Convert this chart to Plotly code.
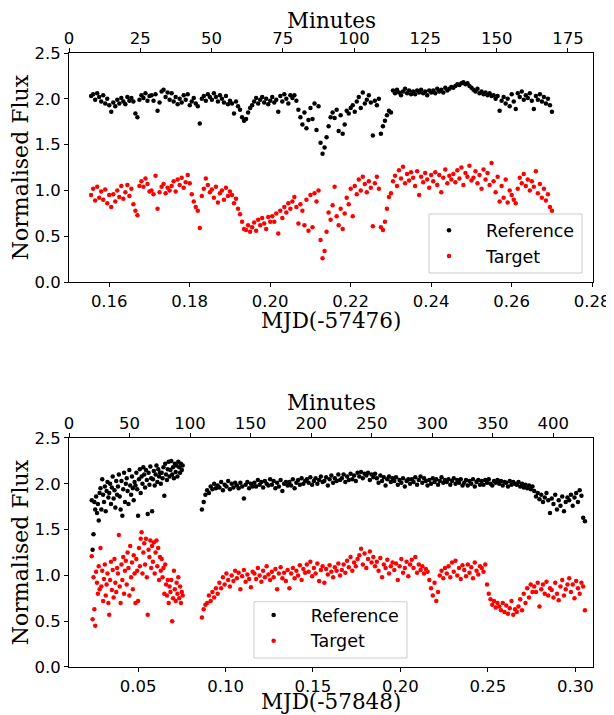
import plotly.graph_objects as go

# ---------------- Top panel (MJD-57476) ----------------
T_TOP = [
    0.1555, 0.1560, 0.1565, 0.1570, 0.1575, 0.1580, 0.1585, 0.1590, 0.1595, 0.1600,
    0.1605, 0.1610, 0.1615, 0.1620, 0.1625, 0.1630, 0.1635, 0.1640, 0.1645, 0.1650,
    0.1655, 0.1660, 0.1665, 0.1670, 0.1675, 0.1680, 0.1685, 0.1690, 0.1695, 0.1700,
    0.1705, 0.1710, 0.1715, 0.1720, 0.1725, 0.1730, 0.1735, 0.1740, 0.1745, 0.1750,
    0.1755, 0.1760, 0.1765, 0.1770, 0.1775, 0.1780, 0.1785, 0.1790, 0.1795, 0.1800,
    0.1805, 0.1810, 0.1815, 0.1820, 0.1825, 0.1830, 0.1835, 0.1840, 0.1845, 0.1850,
    0.1855, 0.1860, 0.1865, 0.1870, 0.1875, 0.1880, 0.1885, 0.1890, 0.1895, 0.1900,
    0.1905, 0.1910, 0.1915, 0.1920, 0.1925, 0.1930, 0.1935, 0.1940, 0.1945, 0.1950,
    0.1955, 0.1960, 0.1965, 0.1970, 0.1975, 0.1980, 0.1985, 0.1990, 0.1995, 0.2000,
    0.2005, 0.2010, 0.2015, 0.2020, 0.2025, 0.2030, 0.2035, 0.2040, 0.2045, 0.2050,
    0.2055, 0.2060, 0.2065, 0.2070, 0.2075, 0.2080, 0.2085, 0.2090, 0.2095, 0.2100,
    0.2105, 0.2110, 0.2115, 0.2120, 0.2125, 0.2130, 0.2135, 0.2140, 0.2145, 0.2150,
    0.2155, 0.2160, 0.2165, 0.2170, 0.2175, 0.2180, 0.2185, 0.2190, 0.2195, 0.2200,
    0.2205, 0.2210, 0.2215, 0.2220, 0.2225, 0.2230, 0.2235, 0.2240, 0.2245, 0.2250,
    0.2255, 0.2260, 0.2265, 0.2270, 0.2275, 0.2280, 0.2285, 0.2290, 0.2295, 0.2300,
    0.2305, 0.2310, 0.2315, 0.2320, 0.2325, 0.2330, 0.2335, 0.2340, 0.2345, 0.2350,
    0.2355, 0.2360, 0.2365, 0.2370, 0.2375, 0.2380, 0.2385, 0.2390, 0.2395, 0.2400,
    0.2405, 0.2410, 0.2415, 0.2420, 0.2425, 0.2430, 0.2435, 0.2440, 0.2445, 0.2450,
    0.2455, 0.2460, 0.2465, 0.2470, 0.2475, 0.2480, 0.2485, 0.2490, 0.2495, 0.2500,
    0.2505, 0.2510, 0.2515, 0.2520, 0.2525, 0.2530, 0.2535, 0.2540, 0.2545, 0.2550,
    0.2555, 0.2560, 0.2565, 0.2570, 0.2575, 0.2580, 0.2585, 0.2590, 0.2595, 0.2600,
    0.2605, 0.2610, 0.2615, 0.2620, 0.2625, 0.2630, 0.2635, 0.2640, 0.2645, 0.2650,
    0.2655, 0.2660, 0.2665, 0.2670, 0.2675, 0.2680, 0.2685, 0.2690, 0.2695, 0.2700,
]

REF_TOP = [
    2.03, 2.05, 1.99, 2.06, 2.02, 1.97, 2.04, 1.95, 2.00, 1.93,
    1.86, 1.96, 1.92, 1.99, 1.95, 2.01, 1.97, 1.94, 2.02, 1.98,
    2.01, 1.97, 1.84, 1.80, 1.99, 2.04, 2.01, 2.06, 1.98, 2.03,
    2.04, 1.98, 2.05, 1.87, 1.96, 2.08, 2.10, 2.02, 2.07, 1.99,
    2.06, 1.97, 2.02, 1.94, 2.00, 1.96, 2.04, 1.99, 2.05, 1.93,
    1.97, 2.01, 1.95, 1.92, 1.73, 2.00, 2.03, 1.98, 2.05, 2.02,
    1.99, 2.06, 2.02, 1.97, 2.04, 2.00, 1.96, 2.03, 1.94, 1.98,
    1.95, 1.84, 1.97, 1.92, 1.88, 1.80, 1.76, 1.78, 1.85, 1.90,
    1.93, 1.97, 2.01, 1.95, 1.99, 2.02, 1.96, 2.00, 1.94, 1.98,
    2.02, 1.96, 1.99, 1.86, 2.03, 1.97, 2.05, 2.00, 1.95, 2.04,
    2.01, 2.04, 1.98, 1.88, 1.80, 1.72, 1.85, 1.68, 1.77, 1.90,
    1.78, 1.95, 1.66, 1.92, 1.52, 1.40, 1.47, 1.58, 1.70, 1.80,
    1.85, 1.79, 1.88, 1.65, 1.82, 1.62, 1.72, 1.87, 1.84, 1.90,
    1.93, 1.86, 1.97, 2.02, 1.90, 2.07, 1.95, 1.99, 2.04, 1.96,
    1.60, 1.98, 1.93, 2.00, 1.62, 1.70, 1.76, 1.82, 1.87, 1.85,
    2.09, 2.06, 2.10, 2.07, 2.04, 2.08, 2.11, 2.06, 2.09, 2.05,
    2.08, 2.05, 2.09, 2.07, 2.10, 2.06, 2.08, 2.04, 2.09, 2.07,
    2.09, 2.06, 2.11, 2.08, 2.10, 2.07, 2.12, 2.09, 2.11, 2.13,
    2.12, 2.14, 2.16, 2.15, 2.17, 2.18, 2.16, 2.17, 2.14, 2.12,
    2.10, 2.08, 2.11, 2.06, 2.08, 2.05, 2.07, 2.04, 2.06, 2.03,
    2.04, 2.00, 2.03, 1.87, 1.98, 2.02, 1.95, 2.00, 1.92, 2.05,
    1.97, 1.89, 2.06, 2.02, 2.08, 1.99, 2.04, 2.01, 2.06, 1.98,
    1.89, 2.03, 1.99, 2.05, 1.97, 2.02, 1.95, 2.00, 1.93, 1.86,
]

TGT_TOP = [
    0.95, 1.02, 0.89, 1.04, 0.92, 0.99, 0.90, 1.01, 0.86, 0.95,
    0.82, 0.96, 0.88, 1.00, 0.93, 1.05, 0.91, 0.98, 1.06, 0.94,
    1.02, 0.85, 0.78, 0.73, 1.05, 1.10, 1.04, 1.13, 1.07, 0.99,
    1.00, 0.96, 1.16, 0.80, 0.98, 1.04, 1.07, 0.97, 1.03, 1.00,
    1.05, 1.10, 0.99, 1.12, 1.06, 1.14, 1.03, 1.09, 1.17, 1.08,
    0.96, 0.88, 0.82, 0.78, 0.59, 0.94, 1.02, 1.13, 1.06, 0.98,
    1.01, 0.92, 1.04, 0.87, 0.97, 1.00, 0.90, 1.03, 0.94, 0.99,
    0.95, 0.86, 0.91, 0.80, 0.74, 0.66, 0.58, 0.57, 0.62, 0.55,
    0.60, 0.65, 0.56, 0.68, 0.62, 0.70, 0.64, 0.58, 0.71, 0.66,
    0.72, 0.66, 0.75, 0.53, 0.78, 0.70, 0.82, 0.76, 0.86, 0.80,
    0.88, 0.93, 0.82, 0.64, 0.85, 0.78, 0.62, 0.90, 0.56, 0.95,
    0.60, 0.97, 0.88, 1.00, 0.46, 0.26, 0.34, 0.55, 0.76, 0.68,
    0.84, 1.04, 0.72, 0.62, 0.80, 0.58, 0.75, 0.92, 0.85, 1.02,
    0.72, 1.05, 0.96, 1.12, 1.00, 1.15, 1.07, 0.98, 1.10, 1.03,
    0.61, 1.08, 1.15, 1.02, 0.60, 0.57, 0.66, 0.80, 0.93, 0.97,
    1.10, 1.16, 1.05, 1.22, 1.13, 1.26, 1.08, 1.18, 1.11, 1.20,
    1.14, 1.05, 1.21, 0.95, 1.15, 1.09, 1.19, 1.12, 1.03, 1.17,
    1.10, 1.20, 1.06, 1.17, 0.98, 1.14, 1.23, 1.08, 1.16, 1.12,
    1.18, 1.09, 1.22, 1.13, 1.25, 1.06, 1.19, 1.15, 1.27, 1.11,
    1.14, 1.21, 1.08, 1.17, 1.02, 1.23, 1.12, 1.19, 1.06, 1.30,
    1.10, 0.98, 1.15, 0.88, 1.05, 0.92, 1.12, 0.87, 1.00, 0.95,
    0.90, 0.86, 1.02, 1.14, 1.08, 1.18, 1.05, 1.12, 1.00, 1.10,
    1.04, 1.21, 0.97, 1.07, 0.92, 1.02, 0.89, 0.96, 0.82, 0.78,
]

# ---------------- Bottom panel (MJD-57848) ----------------
T_BOT = [
    0.0235, 0.0240, 0.0245, 0.0250, 0.0255, 0.0260, 0.0265, 0.0270, 0.0275, 0.0280,
    0.0285, 0.0290, 0.0295, 0.0300, 0.0305, 0.0310, 0.0315, 0.0320, 0.0325, 0.0330,
    0.0335, 0.0340, 0.0345, 0.0350, 0.0355, 0.0360, 0.0365, 0.0370, 0.0375, 0.0380,
    0.0385, 0.0390, 0.0395, 0.0400, 0.0405, 0.0410, 0.0415, 0.0420, 0.0425, 0.0430,
    0.0435, 0.0440, 0.0445, 0.0450, 0.0455, 0.0460, 0.0465, 0.0470, 0.0475, 0.0480,
    0.0485, 0.0490, 0.0495, 0.0500, 0.0505, 0.0510, 0.0515, 0.0520, 0.0525, 0.0530,
    0.0535, 0.0540, 0.0545, 0.0550, 0.0555, 0.0560, 0.0565, 0.0570, 0.0575, 0.0580,
    0.0585, 0.0590, 0.0595, 0.0600, 0.0605, 0.0610, 0.0615, 0.0620, 0.0625, 0.0630,
    0.0635, 0.0640, 0.0645, 0.0650, 0.0655, 0.0660, 0.0665, 0.0670, 0.0675, 0.0680,
    0.0685, 0.0690, 0.0695, 0.0700, 0.0705, 0.0710, 0.0715, 0.0720, 0.0725, 0.0730,
    0.0735, 0.0740, 0.0745, 0.0750, 0.0755,
    0.0865, 0.0875, 0.0885, 0.0895, 0.0905, 0.0915, 0.0925, 0.0935, 0.0945, 0.0955,
    0.0965, 0.0975, 0.0985, 0.0995, 0.1005, 0.1015, 0.1025, 0.1035, 0.1045, 0.1055,
    0.1065, 0.1075, 0.1085, 0.1095, 0.1105, 0.1115, 0.1125, 0.1135, 0.1145, 0.1155,
    0.1165, 0.1175, 0.1185, 0.1195, 0.1205, 0.1215, 0.1225, 0.1235, 0.1245, 0.1255,
    0.1265, 0.1275, 0.1285, 0.1295, 0.1305, 0.1315, 0.1325, 0.1335, 0.1345, 0.1355,
    0.1365, 0.1375, 0.1385, 0.1395, 0.1405, 0.1415, 0.1425, 0.1435, 0.1445, 0.1455,
    0.1465, 0.1475, 0.1485, 0.1495, 0.1505, 0.1515, 0.1525, 0.1535, 0.1545, 0.1555,
    0.1565, 0.1575, 0.1585, 0.1595, 0.1605, 0.1615, 0.1625, 0.1635, 0.1645, 0.1655,
    0.1665, 0.1675, 0.1685, 0.1695, 0.1705, 0.1715, 0.1725, 0.1735, 0.1745, 0.1755,
    0.1765, 0.1775, 0.1785, 0.1795, 0.1805, 0.1815, 0.1825, 0.1835, 0.1845, 0.1855,
    0.1865, 0.1875, 0.1885, 0.1895, 0.1905, 0.1915, 0.1925, 0.1935, 0.1945, 0.1955,
    0.1965, 0.1975, 0.1985, 0.1995, 0.2005, 0.2015, 0.2025, 0.2035, 0.2045, 0.2055,
    0.2065, 0.2075, 0.2085, 0.2095, 0.2105, 0.2115, 0.2125, 0.2135, 0.2145, 0.2155,
    0.2165, 0.2175, 0.2185, 0.2195, 0.2205, 0.2215, 0.2225, 0.2235, 0.2245, 0.2255,
    0.2265, 0.2275, 0.2285, 0.2295, 0.2305, 0.2315, 0.2325, 0.2335, 0.2345, 0.2355,
    0.2365, 0.2375, 0.2385, 0.2395, 0.2405, 0.2415, 0.2425, 0.2435, 0.2445, 0.2455,
    0.2465, 0.2475, 0.2485, 0.2495, 0.2505, 0.2515, 0.2525, 0.2535, 0.2545, 0.2555,
    0.2565, 0.2575, 0.2585, 0.2595, 0.2605, 0.2615, 0.2625, 0.2635, 0.2645, 0.2655,
    0.2665, 0.2675, 0.2685, 0.2695, 0.2705, 0.2715, 0.2725, 0.2735, 0.2745, 0.2755,
    0.2765, 0.2775, 0.2785, 0.2795, 0.2805, 0.2815, 0.2825, 0.2835, 0.2845, 0.2855,
    0.2865, 0.2875, 0.2885, 0.2895, 0.2905, 0.2915, 0.2925, 0.2935, 0.2945, 0.2955,
    0.2965, 0.2975, 0.2985, 0.2995, 0.3005, 0.3015, 0.3025, 0.3035, 0.3045, 0.3055,
]

REF_BOT = [
    1.82, 1.28, 1.45, 1.80, 1.72, 1.86, 1.68, 1.78, 1.60, 1.90,
    1.95, 1.72, 2.05, 1.88, 1.80, 1.97, 1.70, 1.92, 2.02, 1.85,
    1.90, 2.00, 1.78, 1.96, 2.08, 1.84, 1.93, 1.74, 2.03, 1.88,
    1.97, 2.10, 1.86, 1.72, 2.03, 1.65, 1.94, 2.12, 1.80, 2.00,
    2.06, 1.92, 1.78, 2.15, 1.98, 1.88, 2.08, 1.95, 1.82, 2.02,
    1.98, 2.12, 1.94, 1.65, 2.05, 2.16, 1.90, 2.08, 2.00, 2.18,
    2.10, 1.96, 2.15, 2.04, 1.67, 2.12, 1.99, 2.19, 2.06, 1.70,
    2.05, 2.14, 1.98, 2.10, 2.20, 2.02, 2.16, 2.08, 2.12, 2.00,
    2.12, 2.06, 2.18, 1.87, 2.22, 2.10, 2.04, 2.16, 2.24, 2.08,
    2.15, 2.25, 2.10, 2.18, 2.06, 2.22, 2.13, 2.20, 2.08, 2.24,
    2.18, 2.12, 2.22, 2.15, 2.20,
    1.72, 1.80, 1.88, 1.93, 1.90, 1.97, 1.94, 2.00, 1.95, 1.98,
    1.96, 2.02, 1.93, 1.99, 1.97, 2.03, 1.94, 2.00, 1.96, 2.01,
    1.98, 1.95, 2.01, 1.97, 1.84, 1.99, 2.02, 1.95, 2.00, 1.97,
    2.01, 1.97, 2.04, 1.99, 2.02, 1.96, 2.03, 2.00, 1.98, 2.05,
    1.99, 2.03, 1.95, 2.01, 1.97, 2.04, 1.92, 2.00, 2.02, 1.98,
    2.02, 1.98, 2.05, 1.95, 2.01, 2.04, 1.99, 2.06, 2.00, 2.03,
    2.05, 2.01, 2.07, 1.99, 2.03, 2.06, 2.00, 2.04, 2.08, 2.02,
    2.03, 2.07, 1.98, 2.05, 2.09, 2.01, 2.06, 2.03, 2.10, 2.04,
    2.06, 2.10, 2.02, 2.08, 2.04, 2.11, 2.05, 2.09, 2.03, 2.12,
    2.08, 2.13, 2.06, 2.11, 2.09, 2.12, 2.04, 2.10, 2.07, 2.11,
    2.06, 2.01, 2.09, 2.03, 2.07, 1.98, 2.05, 2.08, 2.02, 2.06,
    2.03, 2.07, 1.99, 2.04, 2.01, 2.06, 1.97, 2.03, 2.05, 2.00,
    2.05, 2.02, 2.07, 1.99, 2.04, 2.08, 2.01, 2.06, 2.03, 1.98,
    2.04, 2.00, 2.06, 2.02, 2.05, 1.99, 2.03, 2.07, 2.01, 2.04,
    2.02, 2.05, 1.99, 2.03, 2.06, 2.00, 2.04, 2.01, 2.05, 1.98,
    2.01, 2.04, 1.98, 2.03, 2.00, 2.05, 1.97, 2.02, 2.04, 1.99,
    2.03, 1.99, 2.04, 2.01, 2.05, 2.00, 1.98, 2.03, 2.01, 2.04,
    2.00, 2.03, 1.98, 2.02, 2.01, 1.97, 2.03, 1.99, 2.02, 2.00,
    1.99, 2.02, 1.97, 2.00, 1.96, 1.99, 1.95, 1.98, 1.94, 1.97,
    1.92, 1.86, 1.90, 1.83, 1.88, 1.80, 1.85, 1.90, 1.82, 1.68,
    1.84, 1.78, 1.88, 1.72, 1.82, 1.76, 1.86, 1.70, 1.80, 1.85,
    1.82, 1.88, 1.76, 1.85, 1.90, 1.80, 1.93, 1.87, 1.63, 1.59,
]

TGT_BOT = [
    1.21, 0.52, 0.98, 0.63, 0.45, 1.04, 0.92, 0.80, 1.10, 0.85,
    1.30, 0.88, 1.05, 0.72, 0.96, 1.12, 0.78, 0.90, 1.02, 0.70,
    0.57, 0.95, 1.15, 0.84, 1.06, 0.76, 1.18, 0.92, 0.82, 1.08,
    1.02, 1.44, 0.88, 0.70, 1.12, 0.95, 1.20, 0.80, 1.05, 1.16,
    0.90, 1.25, 1.08, 0.78, 1.32, 0.98, 1.14, 0.85, 1.22, 1.02,
    0.70, 1.18, 1.05, 0.72, 1.30, 1.10, 1.40, 1.47, 1.02, 1.25,
    1.35, 1.12, 1.40, 0.98, 0.57, 1.28, 1.20, 1.38, 1.08, 1.32,
    1.15, 1.36, 1.02, 1.25, 1.38, 1.10, 1.30, 0.95, 1.20, 1.05,
    1.18, 0.98, 1.08, 0.80, 1.12, 0.90, 0.78, 0.95, 0.70, 0.88,
    0.82, 0.95, 0.50, 0.75, 1.05, 0.85, 0.72, 0.92, 0.80, 0.98,
    0.75, 0.88, 0.70, 0.82, 0.78,
    0.54, 0.63, 0.68, 0.70, 0.78, 0.72, 0.82, 0.76, 0.86, 0.80,
    0.92, 0.86, 0.98, 0.90, 1.02, 0.95, 0.88, 1.00, 0.94, 1.05,
    0.97, 1.03, 0.85, 0.99, 1.06, 0.93, 1.01, 0.96, 0.87, 1.04,
    1.02, 0.96, 1.08, 1.00, 0.93, 1.05, 0.98, 1.10, 1.01, 0.95,
    1.04, 0.98, 1.07, 0.85, 1.02, 1.09, 0.97, 1.03, 0.94, 1.06,
    0.86, 1.02, 1.08, 0.97, 1.05, 1.00, 1.11, 0.95, 1.07, 1.03,
    1.12, 1.04, 1.15, 0.99, 1.08, 1.02, 1.13, 0.94, 1.06, 1.10,
    0.92, 1.07, 1.01, 1.11, 1.04, 0.98, 1.09, 1.05, 1.13, 1.00,
    1.06, 1.12, 1.03, 1.16, 1.09, 1.20, 1.05, 1.14, 1.10, 1.18,
    1.22, 1.29, 1.12, 1.24, 1.08, 1.18, 1.26, 1.14, 1.20, 1.10,
    1.15, 1.05, 1.19, 0.98, 1.12, 1.08, 1.17, 1.02, 1.10, 1.14,
    1.06, 1.13, 0.95, 1.10, 1.18, 1.03, 1.08, 1.15, 0.99, 1.12,
    1.17, 1.08, 1.20, 1.03, 1.12, 1.06, 1.10, 1.02, 1.07, 1.04,
    0.95, 0.86, 0.78, 0.92, 0.72, 0.82, 1.00, 1.05, 0.97, 1.08,
    1.02, 1.10, 0.98, 1.14, 1.04, 1.16, 1.00, 1.08, 0.96, 1.11,
    1.06, 0.99, 1.12, 1.03, 1.09, 0.97, 1.14, 1.05, 1.01, 1.10,
    1.08, 1.04, 1.12, 0.90, 0.80, 0.74, 0.68, 0.72, 0.65, 0.70,
    0.66, 0.62, 0.70, 0.60, 0.67, 0.58, 0.64, 0.72, 0.57, 0.63,
    0.60, 0.66, 0.74, 0.62, 0.80, 0.70, 0.86, 0.76, 0.90, 0.82,
    0.88, 0.82, 0.92, 0.66, 0.85, 0.90, 0.80, 0.93, 0.78, 0.86,
    0.84, 0.76, 0.92, 0.80, 0.73, 0.88, 0.95, 0.78, 0.85, 0.90,
    0.97, 0.82, 0.90, 0.75, 0.94, 0.86, 0.80, 0.92, 0.88, 0.62,
]

SERIES_NAMES = ["Reference", "Target"]
SERIES_COLORS = ["#000000", "#ff0000"]
Y_TICKS = [0.0, 0.5, 1.0, 1.5, 2.0, 2.5]
TOP_XTITLE = "MJD(-57476)"
BOT_XTITLE = "MJD(-57848)"
MIN_TITLE = "Minutes"
Y_TITLE = "Normalised Flux"

SANS = "DejaVu Sans, Liberation Sans, sans-serif"
SERIF = "DejaVu Serif, Liberation Serif, serif"
MSIZE = 4.5

fig = go.Figure()
panels = [
    (T_TOP, [REF_TOP, TGT_TOP], "x", "y", "legend", "x3"),
    (T_BOT, [REF_BOT, TGT_BOT], "x2", "y2", "legend2", "x4"),
]
for tt, ys, xa, ya, lg, xmin in panels:
    for name, col, yy in zip(SERIES_NAMES, SERIES_COLORS, ys):
        fig.add_trace(go.Scatter(
            x=tt, y=yy, mode="markers", name=name,
            marker=dict(color=col, size=MSIZE, line=dict(width=0)),
            xaxis=xa, yaxis=ya, legend=lg,
        ))
    # empty trace so that the twin "Minutes" axis is drawn
    fig.add_trace(go.Scatter(x=[], y=[], mode="markers", xaxis=xmin, yaxis=ya,
                             showlegend=False, hoverinfo="skip"))

tickfont = dict(family=SANS, size=16.5, color="black")
titlefont = dict(family=SERIF, size=22, color="black")
xtitlefont = dict(family=SERIF, size=21.5, color="black")

common_axis = dict(
    showgrid=False, zeroline=False, showline=True, linecolor="black", linewidth=1,
    ticks="outside", ticklen=4, tickwidth=1, tickcolor="black", tickfont=tickfont,
    automargin=False,
)

TOP_DOM = [0.6268, 1.0]
BOT_DOM = [0.0, 0.3730]

# the page body has an 8px default margin: the figure is sized to fit the window
fig.update_layout(
    width=606, height=707,
    margin=dict(l=61, r=21, t=45, b=48),
    plot_bgcolor="white", paper_bgcolor="white",
    xaxis=dict(common_axis, domain=[0, 1], anchor="y", range=[0.15, 0.2802],
               tick0=0, dtick=0.02, tickformat=".2f", mirror=True),
    xaxis3=dict(common_axis, overlaying="x", side="top", anchor="y",
                range=[0, 183.8], tick0=0, dtick=25, ticklabelstandoff=-3),
    yaxis=dict(common_axis, domain=TOP_DOM, anchor="x", range=[0, 2.5],
               tickvals=Y_TICKS, tickformat=".1f", mirror=True,
               title=dict(text=Y_TITLE, font=titlefont, standoff=0)),
    xaxis2=dict(common_axis, domain=[0, 1], anchor="y2", range=[0.0105, 0.3101],
                tick0=0, dtick=0.05, tickformat=".2f", mirror=True),
    xaxis4=dict(common_axis, overlaying="x2", side="top", anchor="y2",
                range=[0, 432.8], tick0=0, dtick=50, ticklabelstandoff=-3),
    yaxis2=dict(common_axis, domain=BOT_DOM, anchor="x2", range=[0, 2.5],
                tickvals=Y_TICKS, tickformat=".1f", mirror=True,
                title=dict(text=Y_TITLE, font=titlefont, standoff=0)),
    legend=dict(x=0.6546, y=0.7403, xanchor="left", yanchor="top",
                borderwidth=0, bgcolor="rgba(0,0,0,0)", itemwidth=64,
                font=dict(family=SANS, size=17.5, color="black")),
    legend2=dict(x=0.3199, y=0.114, xanchor="left", yanchor="top",
                 borderwidth=0, bgcolor="rgba(0,0,0,0)", itemwidth=64,
                 font=dict(family=SANS, size=17.5, color="black")),
    showlegend=True,
    shapes=[
        dict(type="rect", xref="paper", yref="paper", x0=0.687, x1=0.979,
             y0=0.6417, y1=0.7378, line=dict(color="#cccccc", width=1),
             fillcolor="rgba(255,255,255,0.8)", layer="above"),
        dict(type="rect", xref="paper", yref="paper", x0=0.353, x1=0.645,
             y0=0.0147, y1=0.1063, line=dict(color="#cccccc", width=1),
             fillcolor="rgba(255,255,255,0.8)", layer="above"),
    ],
    annotations=[
        dict(text=MIN_TITLE, xref="paper", yref="paper", x=0.5, y=1.0530,
             xanchor="center", yanchor="middle", showarrow=False, font=xtitlefont),
        dict(text=TOP_XTITLE, xref="paper", yref="paper", x=0.5, y=0.5651,
             xanchor="center", yanchor="middle", showarrow=False, font=xtitlefont),
        dict(text=MIN_TITLE, xref="paper", yref="paper", x=0.5, y=0.4300,
             xanchor="center", yanchor="middle", showarrow=False, font=xtitlefont),
        dict(text=BOT_XTITLE, xref="paper", yref="paper", x=0.5, y=-0.0570,
             xanchor="center", yanchor="middle", showarrow=False, font=xtitlefont),
    ],
)

fig.write_html("out.html")
